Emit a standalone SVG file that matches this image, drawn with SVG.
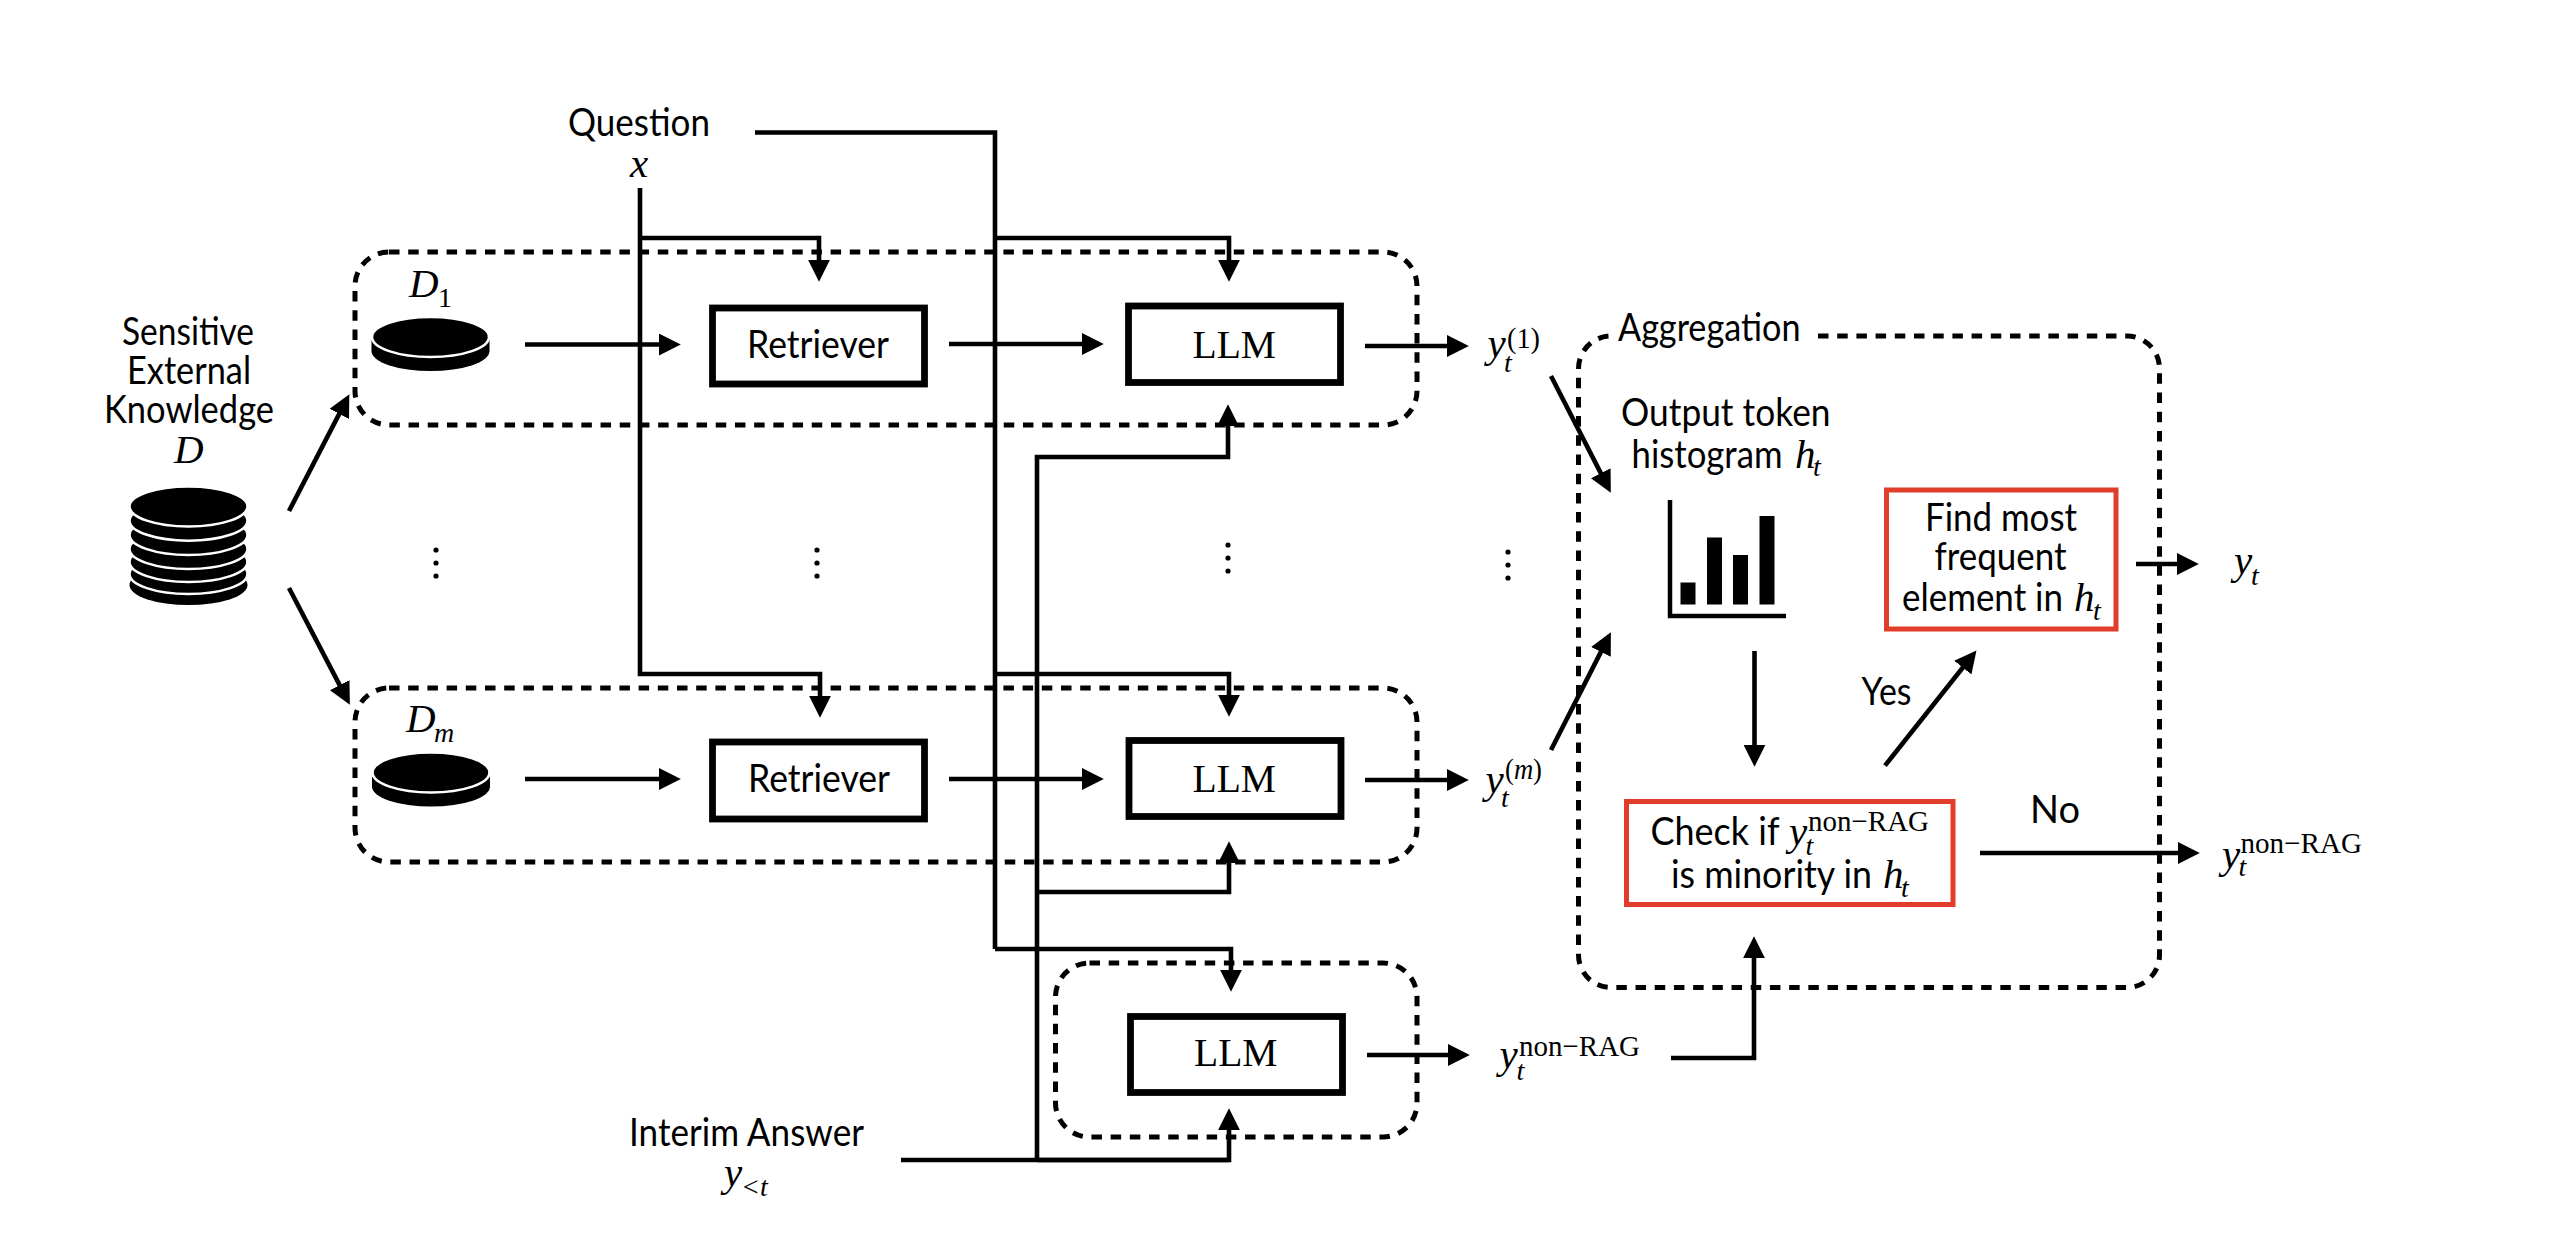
<svg xmlns="http://www.w3.org/2000/svg" width="2564" height="1240" viewBox="0 0 2564 1240">
<style>
text{fill:#000}
.s{font-family:"Lato","Liberation Sans",sans-serif;font-size:38px}
.i{font-family:"Liberation Serif",serif;font-style:italic;font-size:41px}
.b{font-family:"Liberation Serif",serif;font-style:italic;font-size:28px}
.n{font-family:"Liberation Serif",serif;font-size:28px}
.u{font-family:"Liberation Serif",serif;font-size:30px}
.l{font-family:"Liberation Serif",serif;font-size:41px}
.box{fill:#fff;stroke:#000;stroke-width:6.8}
.red{fill:none;stroke:#e03d2a;stroke-width:5}
.dash{fill:none;stroke:#000;stroke-width:5;stroke-dasharray:10.500 8.700}
.c{fill:none;stroke:#000;stroke-width:4.6;stroke-linejoin:miter}
.a{marker-end:url(#arrow)}
.top{fill:#000;stroke:#fff;stroke-width:2.600}
.dot{fill:#000}
</style>
<defs>
<marker id="arrow" markerUnits="userSpaceOnUse" markerWidth="22" markerHeight="22" refX="12" refY="10" orient="auto" viewBox="0 0 20 20"><path d="M0,0L20,10L0,20z" fill="#000"/></marker>
<g id="dots"><circle cx="0" cy="0" r="2.6" class="dot"/><circle cx="0" cy="13" r="2.6" class="dot"/><circle cx="0" cy="26" r="2.6" class="dot"/></g>
<g id="disk"><path d="M-59,0V14A59,20 0 0 0 59,14V0z" fill="#000"/><ellipse class="top" cx="0" cy="0" rx="58.500" ry="20"/></g>
</defs>
<rect width="2564" height="1240" fill="#fff"/>

<g id="groups">
<rect id="group-1" class="dash" x="355" y="252" width="1062" height="173" rx="34" ry="34"/>
<rect id="group-m" class="dash" x="355" y="688" width="1062" height="174" rx="34" ry="34"/>
<rect id="group-non-rag" class="dash" x="1055.500" y="963" width="361.500" height="174" rx="34" ry="34"/>
<path id="group-aggregation" class="dash" d="M1818,336H2127a32.500,32.500 0 0 1 32.500,32.500V955a32.500,32.500 0 0 1 -32.500,32.500H1611a32.500,32.500 0 0 1 -32.500,-32.500V368.500a32.500,32.500 0 0 1 32.500,-32.500"/>
</g>

<g id="connectors">
<path class="c" d="M755,132.500H995V949"/>
<path class="c a" d="M995,949H1231V983"/>
<path class="c a" d="M995,238H1229V273"/>
<path class="c a" d="M995,674H1229V708"/>
<path class="c a" d="M640,188V674H820V709"/>
<path class="c a" d="M640,238H819V273"/>
<path class="c" d="M901,1160H1229"/>
<path class="c a" d="M1037,1160V457H1228V413"/>
<path class="c a" d="M1037,892H1229V850"/>
<path class="c a" d="M1037,1160H1229V1117"/>
<path class="c a" d="M525,344.500H672"/>
<path class="c a" d="M525,779H672"/>
<path class="c a" d="M949,344H1095"/>
<path class="c a" d="M949,779H1095"/>
<path class="c a" d="M1365,346H1460"/>
<path class="c a" d="M1365,780H1460"/>
<path class="c a" d="M1367,1055H1461"/>
<path class="c a" d="M289,511L345.300,402.100"/>
<path class="c a" d="M289,588L345.800,696.900"/>
<path class="c a" d="M1551,376L1606.800,484.900"/>
<path class="c a" d="M1551,750L1606.900,640.100"/>
<path class="c a" d="M1754.500,651V758"/>
<path class="c a" d="M1885,765.600L1971,657.300"/>
<path class="c a" d="M2136,564H2190"/>
<path class="c a" d="M1980,853H2191"/>
<path class="c a" d="M1671,1058H1754V945"/>
</g>

<g id="node-question">
<text class="s" x="568" y="136" textLength="142" lengthAdjust="spacingAndGlyphs">Question</text>
<text class="i" x="630" y="177">x</text>
</g>

<g id="node-knowledge">
<text class="s" x="122" y="345" textLength="132" lengthAdjust="spacingAndGlyphs">Sensitive</text>
<text class="s" x="127" y="384" textLength="124" lengthAdjust="spacingAndGlyphs">External</text>
<text class="s" x="104" y="423" textLength="170" lengthAdjust="spacingAndGlyphs">Knowledge</text>
<text class="i" x="174" y="463">D</text>
<g>
<ellipse cx="188.500" cy="585" rx="59" ry="20" fill="#000"/>
<ellipse class="top" cx="188.500" cy="574" rx="59" ry="20"/>
<ellipse class="top" cx="188.500" cy="562" rx="59" ry="20"/>
<ellipse class="top" cx="188.500" cy="549" rx="59" ry="20"/>
<ellipse class="top" cx="188.500" cy="535" rx="59" ry="20"/>
<ellipse class="top" cx="188.500" cy="520.700" rx="59" ry="20"/>
<ellipse class="top" cx="188.500" cy="506.500" rx="59" ry="20"/>
</g>
</g>

<g id="node-d1">
<text class="i" x="409" y="297">D</text><text class="n" x="438" y="307">1</text>
<use href="#disk" x="430.500" y="337"/>
</g>
<g id="node-dm">
<text class="i" x="406" y="732">D</text><text class="b" x="434" y="742">m</text>
<use href="#disk" x="431" y="772.500"/>
</g>

<g id="node-retriever-1"><rect class="box" x="712.500" y="308" width="212" height="76"/>
<text class="s" x="747" y="358" textLength="142" lengthAdjust="spacingAndGlyphs">Retriever</text></g>
<g id="node-retriever-m"><rect class="box" x="712.500" y="742" width="212" height="77"/>
<text class="s" x="748" y="792" textLength="142" lengthAdjust="spacingAndGlyphs">Retriever</text></g>

<g id="node-llm-1"><rect class="box" x="1128.500" y="306" width="212" height="76.500"/>
<text class="l" x="1192.500" y="358" textLength="83.500" lengthAdjust="spacingAndGlyphs">LLM</text></g>
<g id="node-llm-m"><rect class="box" x="1129" y="740.500" width="212" height="76"/>
<text class="l" x="1192.500" y="792" textLength="83.500" lengthAdjust="spacingAndGlyphs">LLM</text></g>
<g id="node-llm-non-rag"><rect class="box" x="1130.500" y="1016.500" width="212" height="76"/>
<text class="l" x="1194" y="1066" textLength="83.500" lengthAdjust="spacingAndGlyphs">LLM</text></g>

<g id="node-y1"><text class="i" x="1487.500" y="357">y</text><text class="b" x="1504" y="372">t</text><text class="u" x="1507" y="348" textLength="33" lengthAdjust="spacingAndGlyphs">(1)</text></g>
<g id="node-ym"><text class="i" x="1485.500" y="793">y</text><text class="b" x="1501" y="807">t</text><text class="u" x="1505" y="779" textLength="37" lengthAdjust="spacingAndGlyphs">(<tspan font-style="italic">m</tspan>)</text></g>
<g id="node-y-non-rag"><text class="i" x="1499.500" y="1068">y</text><text class="b" x="1516.500" y="1080">t</text><text class="u" x="1519" y="1056" textLength="121" lengthAdjust="spacingAndGlyphs">non−RAG</text></g>

<g id="node-interim">
<text class="s" x="629" y="1146" textLength="235" lengthAdjust="spacingAndGlyphs">Interim Answer</text>
<text class="i" x="724" y="1186">y</text><text class="b" x="741" y="1196">&lt;t</text>
</g>

<g id="node-ellipses">
<use href="#dots" x="436" y="550"/>
<use href="#dots" x="817" y="550"/>
<use href="#dots" x="1228" y="545"/>
<use href="#dots" x="1508" y="552"/>
</g>

<g id="node-aggregation">
<text class="s" x="1618" y="341" textLength="182.500" lengthAdjust="spacingAndGlyphs">Aggregation</text>
</g>

<g id="node-histogram">
<text class="s" x="1621" y="426" textLength="209.500" lengthAdjust="spacingAndGlyphs">Output token</text>
<text class="s" x="1631.500" y="467.500" textLength="151" lengthAdjust="spacingAndGlyphs">histogram</text>
<text class="i" x="1795" y="467.500">h</text><text class="b" x="1813" y="476">t</text>
<path d="M1670,500V616H1786" fill="none" stroke="#000" stroke-width="4.500"/>
<rect x="1680.500" y="582.500" width="15" height="22" fill="#000"/>
<rect x="1707" y="537.500" width="15" height="67" fill="#000"/>
<rect x="1733" y="555" width="15" height="49.500" fill="#000"/>
<rect x="1759.500" y="516" width="15" height="88.500" fill="#000"/>
</g>

<g id="node-find">
<rect class="red" x="1886.500" y="490" width="229.500" height="139"/>
<text class="s" x="1925" y="530.500" textLength="152" lengthAdjust="spacingAndGlyphs">Find most</text>
<text class="s" x="1934.500" y="569.500" textLength="132" lengthAdjust="spacingAndGlyphs">frequent</text>
<text class="s" x="1902" y="611" textLength="161" lengthAdjust="spacingAndGlyphs">element in</text>
<text class="i" x="2074" y="611">h</text><text class="b" x="2093" y="620">t</text>
</g>

<g id="node-check">
<rect class="red" x="1626.500" y="801.500" width="326.500" height="103"/>
<text class="s" x="1650.500" y="844.500" textLength="129" lengthAdjust="spacingAndGlyphs">Check if</text>
<text class="i" x="1789" y="844.500">y</text><text class="b" x="1805.500" y="855">t</text>
<text class="u" x="1808" y="831" textLength="121" lengthAdjust="spacingAndGlyphs">non−RAG</text>
<text class="s" x="1671" y="887.500" textLength="201" lengthAdjust="spacingAndGlyphs">is minority in</text>
<text class="i" x="1883" y="887.500">h</text><text class="b" x="1901" y="897">t</text>
</g>

<g id="node-labels">
<text class="s" x="1861.500" y="704.500" textLength="50" lengthAdjust="spacingAndGlyphs">Yes</text>
<text class="s" x="2030" y="823" textLength="50" lengthAdjust="spacingAndGlyphs">No</text>
</g>

<g id="node-yt"><text class="i" x="2234" y="574">y</text><text class="b" x="2251" y="585">t</text></g>
<g id="node-y-no"><text class="i" x="2222" y="868">y</text><text class="b" x="2238.500" y="876">t</text><text class="u" x="2240.500" y="853" textLength="121.500" lengthAdjust="spacingAndGlyphs">non−RAG</text></g>
</svg>
